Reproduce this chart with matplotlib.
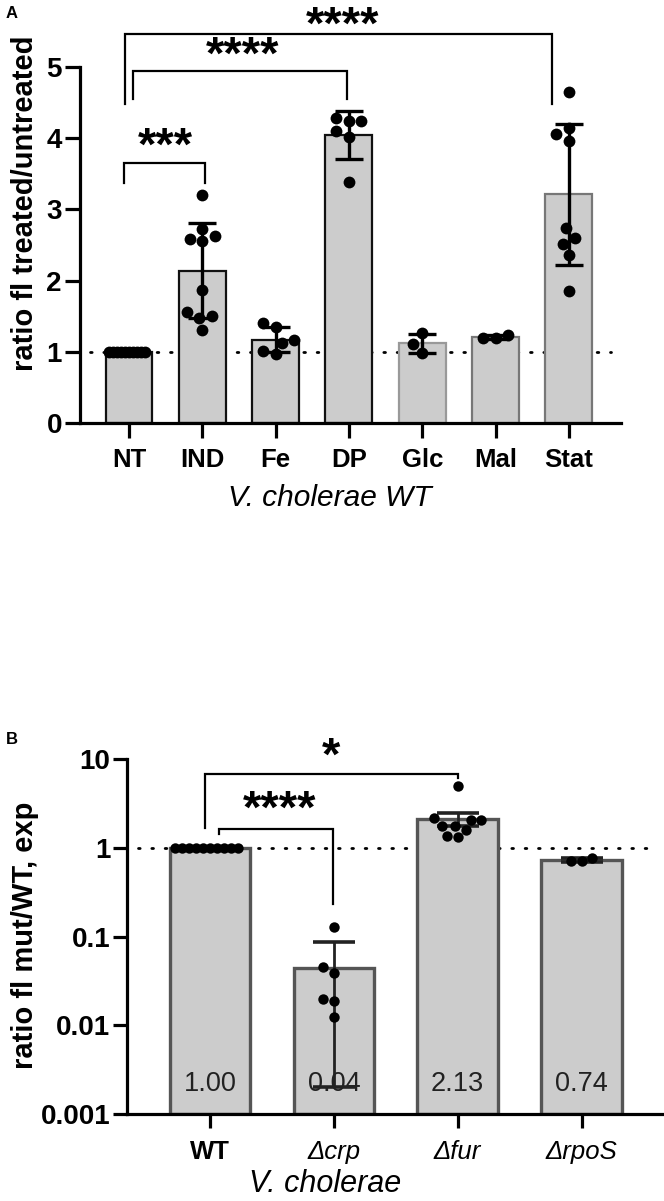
import numpy as np
import matplotlib
matplotlib.use("Agg")
import matplotlib.pyplot as plt

plt.rcParams['font.family'] = ['Liberation Sans', 'DejaVu Sans']

# ---- panel A data ----
cats_a = ['NT', 'IND', 'Fe', 'DP', 'Glc', 'Mal', 'Stat']
nt = [1.0] * 10
ind = [3.20, 2.73, 2.62, 2.58, 2.55, 1.87, 1.56, 1.48, 1.50, 1.31]
fe = [1.40, 1.35, 1.16, 1.13, 1.01, 0.97]
dp = [4.24, 4.29, 4.24, 4.10, 4.01, 3.38]
glc = [1.26, 1.11, 0.99]
mal = [1.24, 1.19, 1.19]
stat = [4.65, 4.14, 4.06, 3.96, 2.74, 2.60, 2.52, 2.36, 1.86]
edge_a = ['#111111', '#111111', '#111111', '#111111', '#999999', '#777777', '#777777']

# ---- panel B data ----
cats_b = ['WT', 'Δcrp', 'Δfur', 'ΔrpoS']
wt = [1.0] * 10
crp = [0.127, 0.046, 0.039, 0.020, 0.019, 0.0125]
fur = [5.0, 2.20, 2.05, 2.05, 1.78, 1.78, 1.60, 1.38, 1.32]
rpos = [0.71, 0.78, 0.71]
mean_b = [1.00, 0.044, 2.13, 0.74]
err_b = [0.0, 0.042, 0.38, 0.04]

GRAY = '#cccccc'


def swarm(ax, x0, vals, diam, maxhalf):
    # simple beeswarm in pixel space, squeezed into maxhalf (data units)
    vals = np.asarray(vals, float)
    xy = ax.transData.transform(np.column_stack([np.full(len(vals), x0), vals]))
    yp = xy[:, 1]
    pxx = ax.transData.transform((1, 0))[0] - ax.transData.transform((0, 0))[0]
    step = diam / 4.0
    cands = [0.0]
    for k in range(1, 80):
        cands += [-k * step, k * step]
    offs = np.zeros(len(vals))
    placed = []
    for i in np.argsort(vals, kind='stable'):
        for c in cands:
            if all((c - o) ** 2 + (yp[i] - y) ** 2 >= diam ** 2 for o, y in placed):
                offs[i] = c
                placed.append((c, yp[i]))
                break
    offs = offs / pxx
    m = np.abs(offs).max()
    if m > maxhalf:
        offs = offs * maxhalf / m
    return x0 + offs


def bracket(ax, x1, x2, y, y1, y2, lw=1.6):
    ax.plot([x1, x1, x2, x2], [y1, y, y, y2], color='k', lw=lw, clip_on=False,
            solid_joinstyle='miter', zorder=5)


fig = plt.figure(figsize=(6.64, 12.01), dpi=100)
W, H = 664.0, 1201.0

# ================= panel A =================
ax = fig.add_axes([80 / W, 1 - 423 / H, (621 - 80) / W, (423 - 67) / H])
groups_a = [nt, ind, fe, dp, glc, mal, stat]
xa = np.arange(len(cats_a))
means_a = [np.mean(g) for g in groups_a]
sd_a = [np.std(g, ddof=1) for g in groups_a]
ax.set_xlim(-0.668, 6.71)
ax.set_ylim(0, 5)
ax.plot([-0.53, 6.58], [1, 1], color='k', lw=2.0, ls=(0, (0.6, 4.2)),
        dash_capstyle='round', zorder=1)
ax.bar(xa, means_a, width=0.64, color=GRAY, edgecolor=edge_a, linewidth=1.6, zorder=2)
for i, g in enumerate(groups_a):
    xs = swarm(ax, xa[i], g, 12.5, 0.27)
    ax.plot(xs, g, 'o', color='k', ms=8.5, mew=0, zorder=4, clip_on=False)
    if i > 0:
        ax.errorbar(xa[i], means_a[i], yerr=sd_a[i], fmt='none', ecolor='k',
                    elinewidth=2.4, capsize=10, capthick=2.4, zorder=3)

bracket(ax, -0.07, 1.04, 3.65, 3.37, 3.37)
bracket(ax, 0.05, 2.97, 4.95, 4.55, 4.55)
bracket(ax, -0.05, 5.77, 5.46, 4.48, 4.48)
star_kw = dict(ha='center', va='center', fontsize=34, fontweight='bold', clip_on=False)
ax.text(0.5, 3.86, '***', **star_kw)
ax.text(1.55, 5.15, '****', **star_kw)
ax.text(2.91, 5.57, '****', **star_kw)

for s in ['top', 'right']:
    ax.spines[s].set_visible(False)
for s in ['left', 'bottom']:
    ax.spines[s].set_linewidth(2.3)
ax.set_yticks([0, 1, 2, 3, 4, 5])
ax.set_xticks(xa)
ax.set_xticklabels(cats_a, fontsize=18.5, fontweight='bold')
ax.tick_params(axis='y', length=11, width=2.3, pad=2, labelsize=20)
ax.tick_params(axis='x', length=11, width=2.3, pad=7)
for t in ax.get_yticklabels():
    t.set_fontweight('bold')

fig.text(25 / W, 1 - 203 / H, 'ratio fl treated/untreated', rotation=90,
         ha='center', va='center', fontsize=21, fontweight='bold')
fig.text(330 / W, 1 - 498 / H, 'V. cholerae WT', ha='center', va='center',
         fontsize=21.5, style='italic')
fig.text(6 / W, 1 - 14 / H, 'A', ha='left', va='center', fontsize=12, fontweight='bold')

# ================= panel B =================
bx = fig.add_axes([127 / W, 1 - 1114 / H, (662 - 127) / W, (1114 - 759.3) / H])
groups_b = [wt, crp, fur, rpos]
xb = np.arange(len(cats_b))
bx.set_yscale('log')
bx.set_xlim(-0.67, 3.65)
bx.set_ylim(1e-3, 10)
bx.plot([-0.58, 3.61], [1, 1], color='k', lw=2.0, ls=(0, (0.6, 4.2)),
        dash_capstyle='round', zorder=1)
bx.bar(xb, np.array(mean_b) - 1e-3, bottom=1e-3, width=0.65, color=GRAY,
       edgecolor='#555555', linewidth=2.4, zorder=2)
for i, g in enumerate(groups_b):
    xs = swarm(bx, xb[i], g, 10.5, 0.28)
    bx.plot(xs, g, 'o', color='k', ms=7.5, mew=0, zorder=4, clip_on=False)
    if i > 0:
        bx.errorbar(xb[i], mean_b[i], yerr=err_b[i], fmt='none', ecolor='#222222',
                    elinewidth=2.0, capsize=15, capthick=2.6, zorder=3)
for i, m in enumerate(mean_b):
    bx.text(xb[i], 1.55e-3, '%.2f' % m, ha='center', va='bottom', fontsize=19.5,
            color='#222222', zorder=6)

bracket(bx, 0.07, 0.995, 1.65, 1.45, 0.235)
bracket(bx, -0.04, 2.0, 6.9, 1.69, 6.1)
bx.text(0.56, 2.6, '****', **star_kw)
bx.text(0.98, 10.5, '*', **star_kw)

for s in ['top', 'right']:
    bx.spines[s].set_visible(False)
for s in ['left', 'bottom']:
    bx.spines[s].set_linewidth(2.3)
bx.set_yticks([1e-3, 1e-2, 1e-1, 1, 10])
bx.set_yticklabels(['0.001', '0.01', '0.1', '1', '10'], fontweight='bold')
bx.minorticks_off()
bx.set_xticks(xb)
bx.set_xticklabels(cats_b, fontsize=18.5)
labs = bx.get_xticklabels()
labs[0].set_fontweight('bold')
for t in labs[1:]:
    t.set_style('italic')
bx.tick_params(axis='y', length=10, width=2.3, pad=2, labelsize=20)
bx.tick_params(axis='x', length=10, width=2.3, pad=9)

fig.text(25 / W, 1 - 935 / H, 'ratio fl mut/WT, exp', rotation=90,
         ha='center', va='center', fontsize=21, fontweight='bold')
fig.text(325 / W, 1 - 1184 / H, 'V. cholerae', ha='center', va='center',
         fontsize=22, style='italic')
fig.text(6 / W, 1 - 739 / H, 'B', ha='left', va='center', fontsize=12, fontweight='bold')

fig.savefig('out.png', dpi=100)
